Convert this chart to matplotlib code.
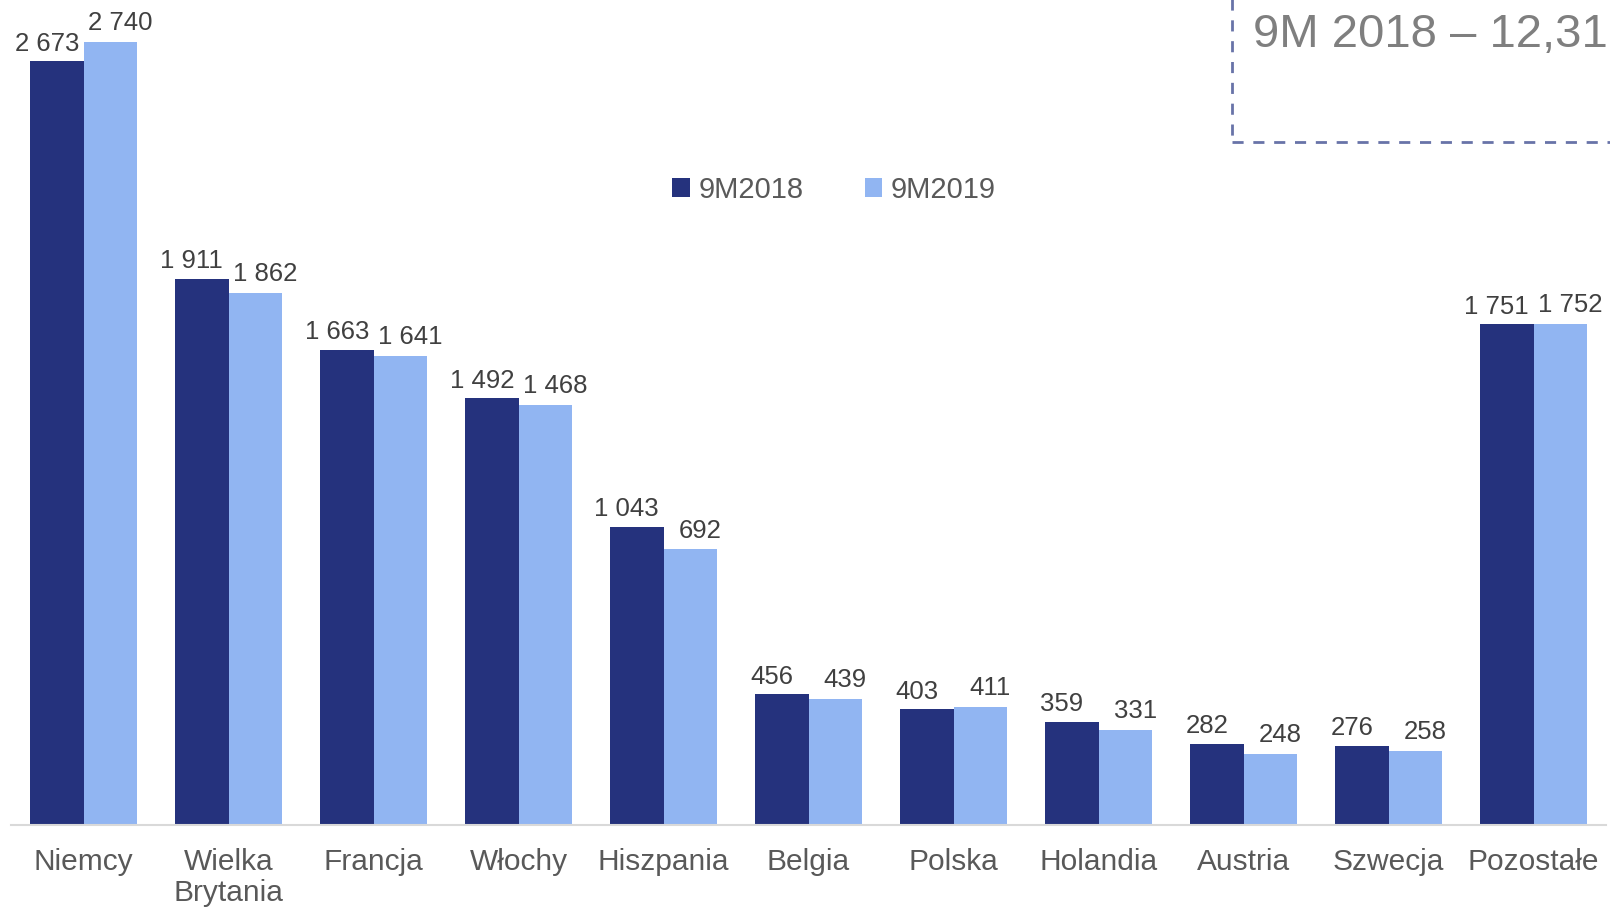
import numpy as np
import matplotlib
matplotlib.use("Agg")
import matplotlib.pyplot as plt
from matplotlib.patches import Rectangle

plt.rcParams["font.family"] = ["Liberation Sans", "DejaVu Sans"]

# Dane
kraje = ["Niemcy", "Wielka\nBrytania", "Francja", "Włochy", "Hiszpania", "Belgia",
         "Polska", "Holandia", "Austria", "Szwecja", "Pozostałe"]
v2018 = [2673, 1911, 1663, 1492, 1043, 456, 403, 359, 282, 276, 1751]
v2019 = [2740, 1862, 1641, 1468, 963, 439, 411, 331, 248, 258, 1752]
# Etykiety danych tak jak na oryginale (dla Hiszpanii 2019 etykieta to 692)
l2018 = ["2 673", "1 911", "1 663", "1 492", "1 043", "456", "403", "359", "282", "276", "1 751"]
l2019 = ["2 740", "1 862", "1 641", "1 468", "692", "439", "411", "331", "248", "258", "1 752"]

c2018 = "#25327d"
c2019 = "#91b5f2"

W, H = 1610, 907
fig = plt.figure(figsize=(W / 100, H / 100), dpi=100)

# Osie: od 11 px do 1606 px, dół na 824.5 px
ax = fig.add_axes([11 / W, (H - 824.5) / H, (1606 - 11) / W, 824.5 / H])

x = np.arange(len(kraje))
bw = 0.372
ax.bar(x - bw / 2, v2018, bw, color=c2018, label="9M2018")
ax.bar(x + bw / 2, v2019, bw, color=c2019, label="9M2019")

ax.set_xlim(-0.5, len(kraje) - 0.5)
ax.set_ylim(0, 2887)

# Etykiety danych
for xi, v, t in zip(x, v2018, l2018):
    ax.annotate(t, (xi - bw / 2, v), xytext=(-7, 4), textcoords="offset points",
                ha="center", va="bottom", fontsize=18.5, color="#404040")
for xi, v, t in zip(x, v2019, l2019):
    ax.annotate(t, (xi + bw / 2, v), xytext=(7, 5), textcoords="offset points",
                ha="center", va="bottom", fontsize=18.5, color="#404040")

# Wygląd osi
for s in ["top", "right", "left"]:
    ax.spines[s].set_visible(False)
ax.spines["bottom"].set_color("#d9d9d9")
ax.spines["bottom"].set_linewidth(1.5)
ax.set_yticks([])
ax.set_xticks(x)
ax.set_xticklabels(kraje, fontsize=21.5, color="#595959", linespacing=1.15)
ax.tick_params(axis="x", length=0, pad=17)

# Legenda
ax.legend(loc="center", bbox_to_anchor=(834 / W, 1 - 190 / H),
          bbox_transform=fig.transFigure, ncol=2, frameon=False,
          fontsize=21, labelcolor="#595959", handlelength=0.6,
          handleheight=0.6, handletextpad=0.3, columnspacing=2.1)

# Ramka z tekstem w prawym górnym rogu
box = Rectangle((1232 / W, 1 - 142 / H), 0.5, 0.5, transform=fig.transFigure,
                fill=False, edgecolor="#6873a8", linewidth=2, linestyle=(0, (4, 3.5)),
                clip_on=False)
fig.add_artist(box)
fig.text(1253 / W, 1 - 47 / H, "9M 2018 – 12,31", fontsize=34, color="#7f7f7f",
         ha="left", va="baseline")

fig.savefig("out.png", dpi=100)
